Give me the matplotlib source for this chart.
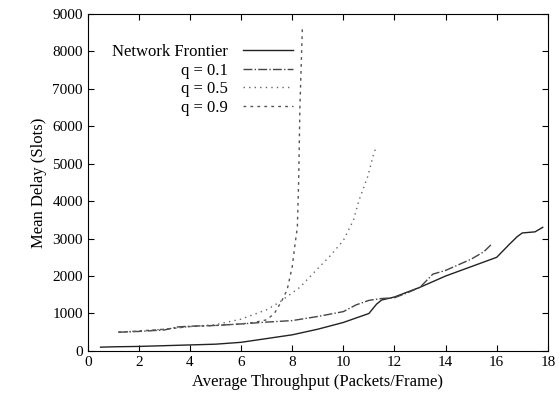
import matplotlib.pyplot as plt
from matplotlib.ticker import MultipleLocator

plt.rcParams['font.family'] = ['Liberation Serif', 'DejaVu Serif']

# Network frontier
frontier_x = [0.5, 1, 2, 3, 4, 5, 6, 7, 8, 9, 10, 10.5, 11, 11.3, 11.5, 12, 13,
              14, 15, 16, 16.5, 16.8, 17, 17.5, 17.8]
frontier_y = [100, 110, 120, 140, 160, 180, 230, 330, 430, 580, 760, 880, 1000,
              1250, 1360, 1440, 1700, 2000, 2250, 2500, 2850, 3050, 3150, 3180, 3300]

# q = 0.1
q1_x = [1.2, 2, 3, 3.5, 4, 5, 6, 7, 7.5, 8, 9, 10, 10.5, 11, 11.5, 12, 12.5,
        13, 13.5, 14, 14.5, 15, 15.5, 15.8]
q1_y = [500, 520, 560, 640, 660, 680, 720, 770, 790, 810, 920, 1050, 1230, 1350,
        1400, 1420, 1550, 1700, 2050, 2150, 2300, 2450, 2650, 2850]

# q = 0.5
q5_x = [1.2, 2, 3, 4, 5, 6, 7, 7.5, 8, 8.3, 9, 9.5, 10, 10.4, 10.6, 10.95, 11.2, 11.3]
q5_y = [500, 530, 580, 650, 700, 850, 1100, 1300, 1550, 1700, 2200, 2550, 2950,
        3500, 4000, 4650, 5300, 5450]

# q = 0.9
q9_x = [1.2, 2, 3, 4, 5, 6, 6.5, 7, 7.3, 7.6, 7.8, 8.0, 8.1, 8.2, 8.25, 8.3, 8.4]
q9_y = [500, 530, 580, 650, 680, 720, 760, 830, 1000, 1350, 1630, 2250, 2800,
        3300, 4500, 6500, 8700]

fig = plt.figure(figsize=(5.59, 4.09), dpi=100)
ax = fig.add_axes([0.157, 0.142, 0.823, 0.824])

ax.plot(frontier_x, frontier_y, color='#222222', lw=1.0, ls='-', label='Network Frontier')
ax.plot(q1_x, q1_y, color='#444444', lw=1.0, ls='-.', label='q = 0.1')
ax.plot(q5_x, q5_y, color='#666666', lw=1.0, ls=(0, (1, 3)), label='q = 0.5')
ax.plot(q9_x, q9_y, color='#555555', lw=1.0, ls=(0, (2, 3)), label='q = 0.9')

ax.set_xlim(0, 18)
ax.set_ylim(0, 9000)
ax.xaxis.set_major_locator(MultipleLocator(2))
ax.yaxis.set_major_locator(MultipleLocator(1000))
ax.tick_params(direction='in', top=True, right=True, labelsize=11, length=4)

ax.set_xlabel('Average Throughput (Packets/Frame)', fontsize=12)
ax.set_ylabel('Mean Delay (Slots)', fontsize=12)

ax.legend(loc='upper left', bbox_to_anchor=(0.02, 0.955), frameon=False,
          markerfirst=False, fontsize=12, handlelength=3.0, labelspacing=0.15,
          handletextpad=0.9)

plt.savefig('out.png', dpi=100)
